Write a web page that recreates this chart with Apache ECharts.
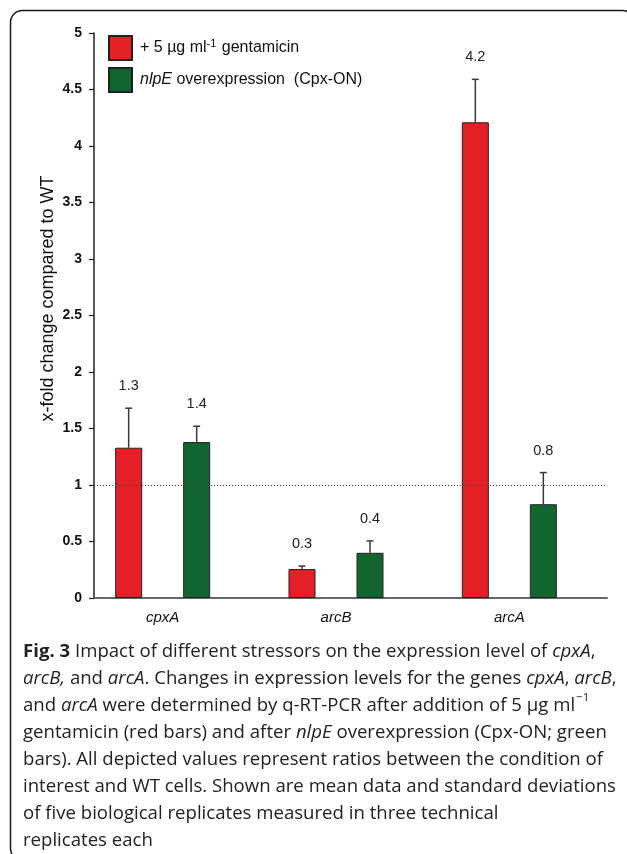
<!DOCTYPE html>
<html>
<head>
<meta charset="utf-8">
<script src="https://cdn.jsdelivr.net/npm/echarts@6/dist/echarts.min.js"></script>
<style>
html,body{margin:0;padding:0;background:#fff;}
#chart{width:627px;height:854px;}
</style>
</head>
<body>
<div id="chart"></div>
<script>
// ---- data ----
var categories = ['cpxA', 'arcB', 'arcA'];
var seriesNames = ['+ 5 µg ml-1 gentamicin', 'nlpE overexpression  (Cpx-ON)'];
var gentamicinMean = [1.33, 0.256, 4.21];
var gentamicinSD = [0.35, 0.027, 0.38];
var nlpEMean = [1.38, 0.40, 0.83];
var nlpESD = [0.14, 0.105, 0.28];
var yTicks = [0, 0.5, 1, 1.5, 2, 2.5, 3, 3.5, 4, 4.5, 5];
var referenceLevel = [1];

var chart = echarts.init(document.getElementById('chart'), null, {renderer: 'canvas'});

var barWidth = 27, barGapPx = 41;
var halfStep = (barWidth + barGapPx) / 2;
var FONT = 'Liberation Sans';
var CAPFONT = 'Open Sans';

function errData(mean, sd) {
  return categories.map(function (c, i) { return [i, mean[i], sd[i]]; });
}
function errRenderer(offset) {
  return function (params, api) {
    var i = api.value(0), v = api.value(1), e = api.value(2);
    var p0 = api.coord([i, v]);
    var p1 = api.coord([i, v + e]);
    var x = p0[0] + offset;
    return {
      type: 'group',
      children: [
        {type: 'line', shape: {x1: x, y1: p0[1], x2: x, y2: p1[1]},
         style: {stroke: '#3a3a3a', lineWidth: 1.5}},
        {type: 'line', shape: {x1: x - 3.5, y1: p1[1], x2: x + 3.5, y2: p1[1]},
         style: {stroke: '#3a3a3a', lineWidth: 1.5}},
        {type: 'text', x: x, y: p1[1] - 22,
         style: {text: v.toFixed(1), align: 'center', verticalAlign: 'middle',
                 fontFamily: FONT, fontSize: 14.5, fill: '#222'}}
      ]
    };
  };
}

var option = {
  backgroundColor: '#fff',
  animation: false,
  grid: [
    {left: 76, right: 31, top: 33, bottom: 256},
    {left: 94, right: 20, top: 33, bottom: 256}
  ],
  legend: {
    orient: 'vertical', left: 108, top: 35, padding: 0,
    itemWidth: 23, itemHeight: 24, itemGap: 6,
    icon: 'rect',
    data: seriesNames,
    formatter: function (name) {
      if (name === seriesNames[0]) return '{n|+ 5 µg ml}{s|-1}{n| gentamicin}';
      return '{i|nlpE}{n| overexpression  (Cpx-ON)}';
    },
    textStyle: {
      fontFamily: FONT, fontSize: 16, color: '#111',
      padding: [0, 0, 0, 3],
      rich: {
        n: {fontFamily: FONT, fontSize: 16, color: '#111', lineHeight: 20},
        i: {fontFamily: FONT, fontSize: 16, fontStyle: 'italic', color: '#111', lineHeight: 20},
        s: {fontFamily: FONT, fontSize: 11, color: '#111', verticalAlign: 'top', lineHeight: 20, padding: [0, 1, 9, 0]}
      }
    }
  },
  xAxis: [
    {type: 'category', gridIndex: 0, data: categories,
     axisLine: {show: false}, axisTick: {show: false},
     axisLabel: {fontFamily: FONT, fontSize: 15, fontStyle: 'italic', color: '#111', margin: 12}},
    {type: 'value', gridIndex: 1, min: 0, max: 1,
     axisLine: {show: true, lineStyle: {color: '#666', width: 2}},
     axisTick: {show: false}, axisLabel: {show: false}, splitLine: {show: false}}
  ],
  yAxis: [
    {type: 'value', gridIndex: 0, min: yTicks[0], max: yTicks[yTicks.length - 1], show: false},
    {type: 'value', gridIndex: 1, min: yTicks[0], max: yTicks[yTicks.length - 1],
     interval: yTicks[1] - yTicks[0],
     name: 'x-fold change compared to WT', nameLocation: 'middle', nameGap: 37,
     nameMoveOverlap: false,
     nameTextStyle: {fontFamily: FONT, fontSize: 18, color: '#111', padding: [0, 0, 0, 34]},
     axisLine: {show: true, lineStyle: {color: '#222', width: 1.5}},
     axisTick: {show: true, inside: false, length: 5, lineStyle: {color: '#222', width: 1.2}},
     axisLabel: {fontFamily: FONT, fontSize: 14, fontWeight: 'bold', color: '#111', margin: 12},
     splitLine: {show: false}}
  ],
  series: [
    {name: seriesNames[0], type: 'bar', xAxisIndex: 0, yAxisIndex: 0,
     data: gentamicinMean, barWidth: barWidth, barGap: (barGapPx / barWidth * 100) + '%',
     itemStyle: {color: '#E41F25', borderColor: '#222', borderWidth: 1}},
    {name: seriesNames[1], type: 'bar', xAxisIndex: 0, yAxisIndex: 0,
     data: nlpEMean, barWidth: barWidth,
     itemStyle: {color: '#136530', borderColor: '#222', borderWidth: 1}},
    {type: 'custom', xAxisIndex: 0, yAxisIndex: 0, data: errData(gentamicinMean, gentamicinSD),
     renderItem: errRenderer(-halfStep), z: 5},
    {type: 'custom', xAxisIndex: 0, yAxisIndex: 0, data: errData(nlpEMean, nlpESD),
     renderItem: errRenderer(halfStep), z: 5},
    {type: 'line', xAxisIndex: 1, yAxisIndex: 1, data: [], silent: true,
     markLine: {symbol: 'none', silent: true, label: {show: false},
       lineStyle: {color: '#444', width: 1, type: [1, 2]},
       data: referenceLevel.map(function (v) { return {yAxis: v}; })}}
  ],
  graphic: [
    {type: 'rect', shape: {x: 10.5, y: 10.5, width: 624, height: 850, r: 12},
     style: {fill: 'none', stroke: '#1a1a1a', lineWidth: 1.5}, silent: true},
    {type: 'text', left: 23, top: 638,
     style: {
       text: [
         '{b|Fig. 3} Impact of different stressors on the expression level of {i|cpxA},',
         '{i|arcB,} and {i|arcA}. Changes in expression levels for the genes {i|cpxA}, {i|arcB},',
         'and {i|arcA} were determined by q-RT-PCR after addition of 5 µg ml{s|−1}',
         'gentamicin (red bars) and after {i|nlpE} overexpression (Cpx-ON; green',
         'bars). All depicted values represent ratios between the condition of',
         'interest and WT cells. Shown are mean data and standard deviations',
         'of five biological replicates measured in three technical',
         'replicates each'
       ].join('\n'),
       fontFamily: CAPFONT, fontSize: 18.6, fill: '#222', lineHeight: 27,
       rich: {
         b: {fontFamily: CAPFONT, fontSize: 18.6, fontWeight: 'bold', fill: '#222', lineHeight: 27},
         i: {fontFamily: CAPFONT, fontSize: 18.6, fontStyle: 'italic', fill: '#222', lineHeight: 27},
         s: {fontFamily: CAPFONT, fontSize: 11.5, fill: '#222', lineHeight: 27, verticalAlign: 'top', padding: [0, 0, 0, 1]}
       }
     }}
  ]
};
chart.setOption(option);
</script>
</body>
</html>
